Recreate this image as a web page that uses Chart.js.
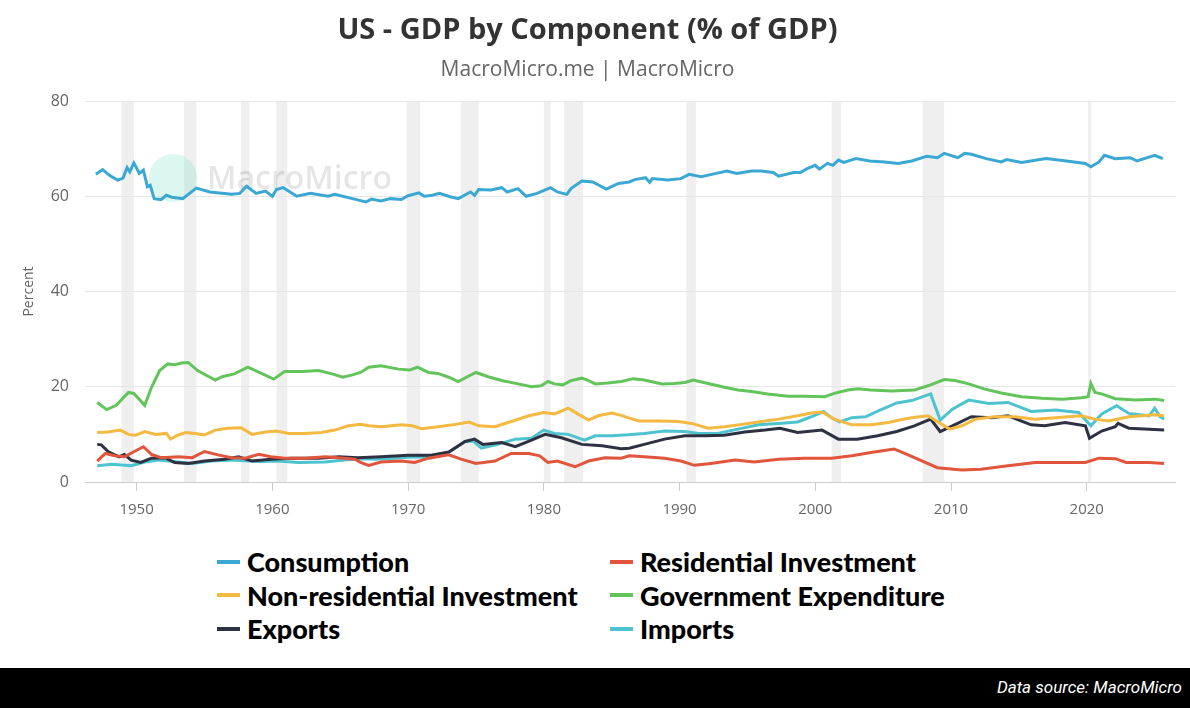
<!DOCTYPE html>
<html>
<head>
<meta charset="utf-8">
<script src="https://cdn.jsdelivr.net/npm/chart.js@4.4.0/dist/chart.umd.min.js"></script>
<style>
body{margin:0;width:1190px;height:708px;overflow:hidden;background:#fff;font-family:"Open Sans",sans-serif}
#wrap{position:relative;width:1190px;height:668px;background:#fff}
#c{position:absolute;left:0;top:0}
#legend{position:absolute;left:217px;top:545px;display:grid;grid-template-columns:393px 400px}
.item{display:flex;align-items:center;height:33.5px;font:900 27px Lato,sans-serif;color:#000}
.item i{display:inline-block;width:23px;height:4px;margin-right:7px}
#foot{position:absolute;left:0;top:668px;width:1190px;height:40px;background:#000}
#foot span{position:absolute;right:8px;top:9px;color:#fff;font:italic 17px Roboto,sans-serif}
</style>
</head>
<body>
<div id="wrap">
  <canvas id="c" width="1190" height="530" style="width:1190px;height:530px"></canvas>
  <div id="legend"></div>
</div>
<div id="foot"><span>Data source: MacroMicro</span></div>
<script>
// [year, % of GDP]
const consumption = [[1947.0,64.6],[1947.5,65.6],[1948.0,64.4],[1948.6,63.4],[1949.0,63.8],[1949.3,66.0],[1949.5,65.1],[1949.8,67.0],[1950.2,64.8],[1950.5,65.5],
  [1950.8,62.0],[1951.0,62.3],[1951.3,59.5],[1951.8,59.3],[1952.2,60.2],[1952.6,59.8],[1953.4,59.5],[1954.4,61.7],[1955.4,60.9],[1957.0,60.4],
  [1957.6,60.6],[1958.1,62.1],[1958.8,60.6],[1959.5,61.1],[1960.0,60.0],[1960.3,61.4],[1960.8,61.8],[1961.8,60.0],[1962.8,60.6],[1964.1,60.0],
  [1964.6,60.4],[1966.2,59.3],[1966.9,58.8],[1967.3,59.4],[1968.0,59.0],[1968.7,59.5],[1969.5,59.3],[1970.0,60.1],[1970.8,60.7],[1971.2,60.0],
  [1971.8,60.2],[1972.3,60.6],[1973.1,59.9],[1973.7,59.5],[1974.6,60.9],[1974.9,60.2],[1975.2,61.4],[1976.1,61.3],[1976.9,61.8],[1977.3,60.9],
  [1978.1,61.6],[1978.7,60.0],[1979.5,60.6],[1980.5,61.8],[1981.0,60.9],[1981.7,60.4],[1982.0,61.6],[1982.8,63.2],[1983.6,63.0],[1984.6,61.5],
  [1985.5,62.7],[1986.3,63.0],[1986.7,63.5],[1987.5,63.9],[1987.8,62.9],[1988.0,63.7],[1989.1,63.4],[1990.1,63.7],[1990.7,64.6],[1991.6,64.1],
  [1992.7,64.8],[1993.5,65.3],[1994.2,64.8],[1995.3,65.3],[1996.0,65.3],[1996.9,65.0],[1997.3,64.2],[1998.4,65.0],[1998.9,65.0],[1999.4,65.8],
  [2000.0,66.5],[2000.3,65.7],[2000.9,66.9],[2001.3,66.5],[2001.7,67.6],[2002.1,67.1],[2003.0,67.9],[2004.0,67.4],[2005.1,67.2],[2006.1,66.9],
  [2007.1,67.4],[2008.2,68.4],[2009.0,68.1],[2009.5,69.0],[2010.5,68.1],[2011.0,69.0],[2011.5,68.8],[2012.6,67.9],[2013.7,67.2],[2014.1,67.7],
  [2015.2,67.1],[2017.0,67.9],[2018.5,67.4],[2019.9,66.9],[2020.3,66.2],[2020.9,67.2],[2021.3,68.6],[2022.1,67.9],[2023.2,68.1],[2023.7,67.4],
  [2025.0,68.6],[2025.6,67.9]];

const residential = [[1947.1,4.4],[1947.7,6.0],[1948.4,5.5],[1949.1,5.3],[1949.9,6.5],[1950.5,7.4],[1951.1,5.8],[1951.8,5.1],[1953.1,5.3],[1954.1,5.1],
  [1955.0,6.4],[1956.0,5.7],[1957.0,5.1],[1958.0,5.0],[1959.0,5.8],[1959.9,5.3],[1960.9,5.0],[1962.4,5.0],[1963.9,5.3],[1965.3,5.0],
  [1966.1,4.8],[1966.5,4.1],[1967.1,3.5],[1968.0,4.2],[1969.5,4.4],[1970.5,4.1],[1971.5,5.0],[1973.0,5.7],[1973.9,4.8],[1975.0,3.9],
  [1976.4,4.4],[1977.6,6.0],[1978.9,6.0],[1979.7,5.5],[1980.3,4.1],[1981.0,4.4],[1982.3,3.2],[1983.3,4.4],[1984.5,5.1],[1985.7,5.0],
  [1986.3,5.5],[1987.4,5.3],[1988.9,5.0],[1990.1,4.4],[1991.1,3.5],[1992.3,3.9],[1994.1,4.6],[1995.5,4.2],[1997.3,4.8],[1999.2,5.0],
  [2001.2,5.0],[2002.7,5.5],[2004.1,6.2],[2005.8,6.9],[2006.2,6.5],[2007.3,5.1],[2009.0,3.0],[2010.8,2.5],[2012.2,2.7],[2014.2,3.4],
  [2016.2,4.1],[2018.2,4.1],[2019.9,4.1],[2020.9,5.0],[2022.1,4.9],[2022.9,4.1],[2024.6,4.1],[2025.7,3.9]];

const nonResidential = [[1947.1,10.4],[1947.9,10.5],[1948.8,10.9],[1949.4,10.0],[1949.9,9.8],[1950.6,10.6],[1951.4,10.0],[1952.2,10.2],[1952.5,9.0],[1953.0,9.8],
  [1953.6,10.4],[1954.3,10.2],[1955.0,9.9],[1955.8,10.9],[1956.7,11.3],[1957.7,11.4],[1958.5,10.0],[1959.5,10.5],[1960.3,10.7],[1961.2,10.2],
  [1962.4,10.2],[1963.6,10.4],[1964.6,10.9],[1965.6,11.8],[1966.5,12.1],[1967.1,11.8],[1968.0,11.6],[1969.5,12.0],[1970.3,11.8],[1971.0,11.2],
  [1972.2,11.6],[1973.5,12.1],[1974.5,12.6],[1975.2,11.8],[1976.4,11.6],[1977.6,12.7],[1978.9,13.9],[1980.0,14.6],[1980.8,14.3],[1981.8,15.5],
  [1982.5,14.3],[1983.3,13.0],[1984.0,13.9],[1985.0,14.5],[1985.7,14.0],[1986.3,13.4],[1987.0,12.8],[1988.5,12.8],[1989.9,12.7],[1990.9,12.3],
  [1992.1,11.3],[1993.3,11.6],[1994.6,12.1],[1995.8,12.6],[1997.3,13.2],[1998.7,13.9],[1999.7,14.5],[2000.5,14.7],[2001.4,13.2],[2002.7,12.0],
  [2004.1,12.0],[2005.4,12.5],[2006.2,13.0],[2007.1,13.5],[2008.3,13.9],[2009.1,12.5],[2009.9,11.1],[2010.8,11.8],[2011.8,13.2],[2013.2,13.7],
  [2014.7,13.7],[2016.2,13.2],[2017.7,13.5],[2019.6,13.9],[2020.6,13.2],[2021.6,12.8],[2023.1,13.7],[2025.0,14.1],[2025.7,13.9]];

const government = [[1947.1,16.7],[1947.8,15.2],[1948.5,16.1],[1949.4,18.8],[1949.8,18.6],[1950.6,16.1],[1951.1,19.9],[1951.7,23.4],[1952.3,24.8],[1952.8,24.6],
  [1953.3,25.0],[1953.8,25.1],[1954.5,23.4],[1955.2,22.3],[1955.8,21.4],[1956.3,22.1],[1957.2,22.7],[1958.2,24.1],[1959.2,22.8],[1960.1,21.6],
  [1960.9,23.2],[1962.2,23.2],[1963.4,23.4],[1964.4,22.7],[1965.2,22.0],[1965.9,22.5],[1966.5,23.0],[1967.1,24.1],[1968.0,24.4],[1969.3,23.7],
  [1970.1,23.5],[1970.7,24.1],[1971.5,23.0],[1972.2,22.8],[1973.0,22.0],[1973.7,21.1],[1974.3,22.0],[1975.0,23.0],[1975.9,22.1],[1976.9,21.3],
  [1978.1,20.6],[1979.1,20.0],[1979.8,20.2],[1980.3,21.1],[1980.8,20.6],[1981.4,20.4],[1982.0,21.3],[1982.8,21.8],[1983.3,21.3],[1983.8,20.6],
  [1984.7,20.8],[1985.7,21.1],[1986.6,21.7],[1987.4,21.4],[1988.7,20.6],[1989.6,20.7],[1990.4,20.9],[1991.0,21.4],[1992.1,20.7],[1993.3,19.9],
  [1994.3,19.3],[1995.3,19.0],[1996.5,18.5],[1998.0,18.0],[1999.2,18.0],[2000.7,17.9],[2001.4,18.6],[2002.4,19.3],[2003.1,19.6],[2004.1,19.3],
  [2005.6,19.1],[2007.3,19.3],[2008.3,20.2],[2009.5,21.5],[2010.3,21.3],[2011.3,20.6],[2012.5,19.5],[2013.7,18.7],[2015.2,17.9],[2016.7,17.6],
  [2018.2,17.4],[2019.6,17.7],[2020.1,17.9],[2020.3,20.7],[2020.6,18.8],[2021.1,18.5],[2022.1,17.5],[2023.6,17.2],[2025.0,17.4],[2025.7,17.1]];

const exportsGdp = [[1947.1,7.9],[1947.4,7.8],[1947.9,6.4],[1948.7,5.3],[1949.1,5.8],[1949.6,4.6],[1950.3,4.1],[1951.1,5.0],[1952.1,5.1],[1952.8,4.1],
  [1953.8,3.9],[1955.0,4.4],[1956.5,4.8],[1957.5,5.3],[1958.5,4.4],[1959.9,4.8],[1961.4,5.0],[1963.4,5.0],[1964.9,5.3],[1966.3,5.1],
  [1968.0,5.3],[1970.0,5.6],[1971.7,5.6],[1973.0,6.3],[1974.2,8.5],[1974.9,9.0],[1975.5,7.9],[1976.9,8.3],[1977.9,7.4],[1979.1,8.8],
  [1980.1,10.0],[1981.3,9.3],[1982.8,7.9],[1984.3,7.6],[1985.7,7.0],[1986.3,7.1],[1987.4,7.9],[1988.9,9.0],[1990.4,9.7],[1991.9,9.7],
  [1993.3,9.8],[1994.8,10.5],[1996.3,10.9],[1997.4,11.3],[1998.7,10.4],[2000.5,10.9],[2001.7,9.0],[2003.1,9.0],[2004.6,9.7],[2006.0,10.6],
  [2007.3,11.8],[2008.5,13.2],[2009.2,10.6],[2010.1,11.8],[2011.5,13.7],[2013.0,13.5],[2014.2,13.9],[2015.9,12.0],[2016.9,11.8],[2018.4,12.5],
  [2019.9,11.8],[2020.2,9.2],[2021.1,10.7],[2022.1,11.6],[2022.3,12.3],[2023.1,11.3],[2024.6,11.1],[2025.7,10.9]];

const importsGdp = [[1947.1,3.4],[1948.2,3.7],[1949.6,3.4],[1950.6,4.2],[1951.6,4.6],[1953.1,4.2],[1954.1,3.9],[1955.5,4.4],[1957.0,4.6],[1959.0,4.3],
  [1960.4,4.4],[1961.9,4.1],[1963.9,4.2],[1965.3,4.6],[1966.5,4.9],[1967.6,4.8],[1969.0,5.0],[1970.5,5.3],[1971.7,5.1],[1973.0,6.2],
  [1974.2,8.5],[1974.8,8.6],[1975.4,7.1],[1976.6,7.9],[1977.9,9.0],[1979.1,9.2],[1980.0,10.9],[1980.8,10.2],[1981.8,10.0],[1983.0,8.8],
  [1983.8,9.7],[1985.0,9.7],[1986.2,9.9],[1987.4,10.2],[1988.9,10.7],[1990.4,10.6],[1991.4,10.2],[1992.8,10.2],[1994.3,11.1],[1995.8,12.0],
  [1997.3,12.3],[1998.7,12.6],[1999.7,13.7],[2000.6,14.8],[2001.2,13.5],[2001.8,12.6],[2002.7,13.5],[2003.7,13.7],[2004.6,14.9],[2006.0,16.6],
  [2007.1,17.1],[2008.5,18.5],[2009.2,13.0],[2010.1,15.3],[2011.3,17.2],[2012.8,16.5],[2014.2,16.7],[2015.9,14.8],[2017.7,15.1],[2019.4,14.6],
  [2020.3,11.8],[2021.1,14.3],[2022.2,16.0],[2023.1,14.4],[2024.6,13.9],[2025.0,15.5],[2025.4,13.7],[2025.7,13.2]];

// US recessions (shaded), [start, end]
const recessions = [[1948.9,1949.8],[1953.5,1954.4],[1957.7,1958.3],[1960.3,1961.1],[1969.9,1970.9],[1973.9,1975.2],
  [1980.0,1980.5],[1981.5,1982.9],[1990.5,1991.2],[2001.2,2001.9],[2007.9,2009.5],[2020.1,2020.3]];

const xTicks = [1950,1960,1970,1980,1990,2000,2010,2020];

const series = [
  {label:'Consumption', data:consumption, color:'#3ba8d3'},
  {label:'Residential Investment', data:residential, color:'#e0553b'},
  {label:'Non-residential Investment', data:nonResidential, color:'#f3b940'},
  {label:'Government Expenditure', data:government, color:'#62c45a'},
  {label:'Exports', data:exportsGdp, color:'#2e3142'},
  {label:'Imports', data:importsGdp, color:'#4dc3cf'}
];

const bands = {
  id:'bands',
  beforeDraw(chart){
    const {ctx, chartArea:a, scales:{x}} = chart;
    ctx.save();
    ctx.fillStyle = '#efefef';
    recessions.forEach(([s,e]) => {
      const l = x.getPixelForValue(s), r = x.getPixelForValue(e);
      ctx.fillRect(l, a.top, Math.max(r-l, 3), a.bottom - a.top);
    });
    ctx.restore();
  }
};

const watermark = {
  id:'watermark',
  beforeDatasetsDraw(chart){
    const ctx = chart.ctx;
    ctx.save();
    ctx.fillStyle = 'rgba(110,225,195,0.25)';
    ctx.beginPath(); ctx.arc(173,178,24,0,Math.PI*2); ctx.fill();
    ctx.fillStyle = 'rgba(0,0,0,0.1)';
    ctx.font = '600 32px "Open Sans"';
    ctx.textBaseline = 'middle';
    ctx.fillText('MacroMicro', 207, 180);
    ctx.restore();
  }
};

const chart = new Chart(document.getElementById('c'), {
  type:'line',
  data:{
    datasets: series.map(s => ({
      label:s.label,
      data:s.data.map(([x,y]) => ({x, y})),
      borderColor:s.color,
      backgroundColor:s.color,
      borderWidth:3,
      pointRadius:0,
      tension:0
    }))
  },
  options:{
    responsive:false,
    animation:false,
    devicePixelRatio:1,
    layout:{padding:{left:0, right:15, top:0, bottom:1}},
    plugins:{
      legend:{display:false},
      tooltip:{enabled:false},
      title:{display:true, text:'US - GDP by Component (% of GDP)', color:'#333',
        font:{family:'Open Sans', size:29, weight:'bold'}, padding:{top:13, bottom:6}},
      subtitle:{display:true, text:'MacroMicro.me | MacroMicro', color:'#666',
        font:{family:'Open Sans', size:21}, padding:{top:4, bottom:18}}
    },
    scales:{
      x:{
        type:'linear', min:1946.2, max:2026.5,
        afterBuildTicks: axis => { axis.ticks = xTicks.map(v => ({value:v})); },
        grid:{drawOnChartArea:false, color:'#ccc', tickLength:9},
        border:{display:true, color:'#ccc'},
        ticks:{color:'#666', font:{family:'Open Sans', size:15}, padding:10, callback: v => String(v)}
      },
      y:{
        min:0, max:80,
        ticks:{stepSize:20, color:'#666', font:{family:'Open Sans', size:16}, padding:16},
        grid:{color:'#e6e6e6', drawTicks:false},
        border:{display:false},
        title:{display:true, text:'Percent', color:'#666', font:{family:'Open Sans', size:14}, padding:{top:21, bottom:0}},
        afterFit: s => { s.width = 85; }
      }
    }
  },
  plugins:[bands, watermark]
});

// two-column legend under the chart
const legend = document.getElementById('legend');
chart.data.datasets.forEach(d => {
  const item = document.createElement('div');
  item.className = 'item';
  const mark = document.createElement('i');
  mark.style.background = d.borderColor;
  item.appendChild(mark);
  item.appendChild(document.createTextNode(d.label));
  legend.appendChild(item);
});
</script>
</body>
</html>
